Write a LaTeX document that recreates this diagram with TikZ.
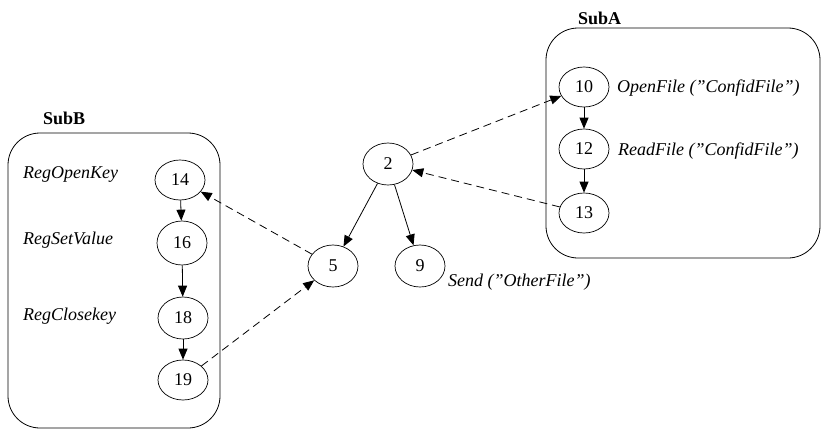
\documentclass[tikz,border=0pt]{standalone}
\usepackage{fontspec}
\setmainfont{Liberation Serif}
\usetikzlibrary{shapes.geometric,arrows.meta}
\newcommand{\sdq}{\symbol{34}}
\begin{document}
\begin{tikzpicture}[x=1pt,y=-1pt,
  nd/.style={ellipse,draw,line width=0.7pt,minimum width=50pt,minimum height=42pt,inner sep=0pt,font=\fontsize{18}{20}\selectfont},
  lbl/.style={font=\fontsize{18}{20}\selectfont\itshape,inner sep=0pt},
  ttl/.style={font=\fontsize{18}{20}\selectfont\bfseries,inner sep=0pt},
  grp/.style={draw,line width=0.8pt,rounded corners=32pt},
  arr/.style={-{Triangle[length=11pt,width=9pt]},line width=0.8pt},
  darr/.style={arr,dash pattern=on 8pt off 5pt}]
\useasboundingbox (0,0) rectangle (821,428);
% groups
\draw[grp] (546,28) rectangle (820,258);
\node[ttl,anchor=west] (ta) at (578,18) {SubA};
\draw[grp] (8,133) rectangle (220,428);
\node[ttl,anchor=west] (tb) at (43,118) {SubB};
% nodes
\node[nd] (n2) at (388,164) {2};
\node[nd] (n5) at (333,266) {5};
\node[nd] (n9) at (420,266) {9};
\node[nd,minimum height=40pt] (n10) at (584,87) {10};
\node[nd,minimum height=40pt] (n12) at (584,149) {12};
\node[nd,minimum height=40pt] (n13) at (584,213) {13};
\node[nd,minimum height=40pt] (n14) at (180,180) {14};
\node[nd,minimum height=44pt] (n16) at (182,243) {16};
\node[nd,minimum height=42pt] (n18) at (183,318) {18};
\node[nd,minimum height=40pt] (n19) at (183,380) {19};
% labels
\node[lbl,anchor=west] (l10) at (617,88) {OpenFile (\sdq ConfidFile\sdq)};
\node[lbl,anchor=west] (l12) at (618,151) {ReadFile (\sdq ConfidFile\sdq)};
\node[lbl,anchor=west] (l9) at (448,282) {Send (\sdq OtherFile\sdq)};
\node[lbl,anchor=west] (l14) at (23,174) {RegOpenKey};
\node[lbl,anchor=west] (l16) at (23,240) {RegSetValue};
\node[lbl,anchor=west] (l18) at (23,316) {RegClosekey};
% edges
\draw[arr] (n2) -- (n5);
\draw[arr] (n2) -- (n9);
\draw[arr] (n10) -- (n12);
\draw[arr] (n12) -- (n13);
\draw[arr] (n14) -- (n16);
\draw[arr] (n16) -- (n18);
\draw[arr] (n18) -- (n19);
\draw[darr] (n2) -- (n10);
\draw[darr] (n13) -- (n2);
\draw[darr] (n5) -- (n14);
\draw[darr] (n19) -- (n5);
\end{tikzpicture}
\end{document}
